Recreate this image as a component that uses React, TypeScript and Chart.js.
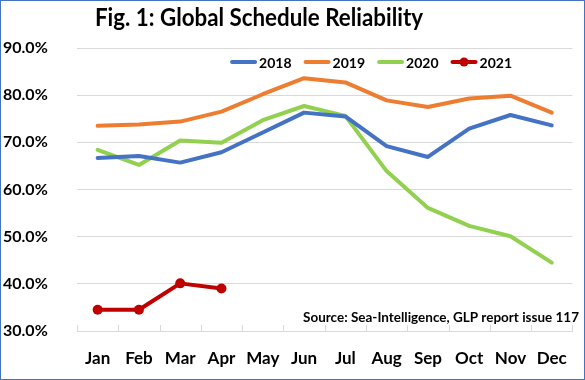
import React, { useEffect, useRef } from "react";
import { Chart, registerables } from "chart.js";

Chart.register(...registerables);

const months = ["Jan", "Feb", "Mar", "Apr", "May", "Jun", "Jul", "Aug", "Sep", "Oct", "Nov", "Dec"];
const s2018 = [66.7, 67.1, 65.7, 67.9, 72.1, 76.3, 75.5, 69.2, 66.9, 72.9, 75.8, 73.6];
const s2019 = [73.5, 73.8, 74.4, 76.5, 80.2, 83.6, 82.7, 78.9, 77.5, 79.3, 79.9, 76.3];
const s2020 = [68.4, 65.2, 70.4, 69.9, 74.7, 77.7, 75.6, 63.9, 56.1, 52.3, 50.1, 44.5];
const s2021 = [34.5, 34.5, 40.1, 39.0];
const seriesLabels = ["2018", "2019", "2020", "2021"];
const yMin = 30;
const yMax = 90;
const yStep = 10;
const titleText = "Fig. 1: Global Schedule Reliability";
const sourceText = "Source: Sea-Intelligence, GLP report issue 117";

const FONT = "Lato, 'Open Sans', sans-serif";
const colors = ["#4472C4", "#ED7D31", "#92D050", "#C00000"];

function drawFitted(ctx: CanvasRenderingContext2D, text: string, font: string, left: number, width: number, cy: number) {
  ctx.save();
  ctx.font = font;
  const m = ctx.measureText(text).width;
  const sx = width / m;
  ctx.translate(left, cy);
  ctx.scale(sx, 1);
  ctx.textAlign = "left";
  ctx.textBaseline = "middle";
  ctx.fillStyle = "#000";
  ctx.fillText(text, 0, 0);
  ctx.restore();
}

const decorPlugin = {
  id: "decor",
  beforeDatasetsDraw(chart: any) {
    const { ctx, chartArea } = chart;
    const { left, right, bottom } = chartArea;
    const n = months.length;
    ctx.save();
    ctx.strokeStyle = "#D9D9D9";
    ctx.lineWidth = 1;
    for (let i = 0; i <= n; i++) {
      const x = Math.round(left + (i * (right - left)) / n) + 0.5;
      ctx.beginPath();
      ctx.moveTo(x, bottom - 6);
      ctx.lineTo(x, bottom);
      ctx.stroke();
    }
    ctx.restore();
  },
  afterDraw(chart: any) {
    const { ctx } = chart;
    // title
    drawFitted(ctx, titleText, `bold 24px ${FONT}`, 94, 328, 17);
    // source
    drawFitted(ctx, sourceText, `bold 13px ${FONT}`, 302, 276, 317);
    // legend
    ctx.save();
    ctx.font = `bold 14px ${FONT}`;
    ctx.textBaseline = "middle";
    ctx.textAlign = "left";
    const ly = 61;
    const lineLen = 27;
    const gapText = 2;
    const gapItem = 12;
    const widths = seriesLabels.map((l) => ctx.measureText(l).width);
    const total = widths.reduce((a, b) => a + b, 0) + seriesLabels.length * (lineLen + gapText) + (seriesLabels.length - 1) * gapItem;
    let x = 511 - total;
    chart.data.datasets.forEach((ds: any, i: number) => {
      ctx.strokeStyle = ds.borderColor;
      ctx.lineWidth = 4;
      ctx.lineCap = "round";
      ctx.beginPath();
      ctx.moveTo(x + 2, ly);
      ctx.lineTo(x + lineLen - 2, ly);
      ctx.stroke();
      if (ds.pointRadius > 0) {
        ctx.fillStyle = ds.borderColor;
        ctx.beginPath();
        ctx.arc(x + lineLen / 2, ly, 4.5, 0, Math.PI * 2);
        ctx.fill();
      }
      ctx.fillStyle = "#000";
      ctx.fillText(ds.label, x + lineLen + gapText, ly + 1);
      x += lineLen + gapText + widths[i] + gapItem;
    });
    ctx.restore();
  },
};

export default function App() {
  const ref = useRef<HTMLCanvasElement>(null);
  useEffect(() => {
    document.body.style.margin = "0";
    const ds = (label: string, data: number[], color: string, pr: number) => ({
      label,
      data,
      borderColor: color,
      backgroundColor: color,
      borderWidth: 4,
      pointRadius: pr,
      pointHoverRadius: pr,
      pointBackgroundColor: color,
      pointBorderColor: color,
      pointBorderWidth: 0,
      tension: 0,
      borderCapStyle: "round",
      borderJoinStyle: "round",
      fill: false,
    });
    const chart = new Chart(ref.current as HTMLCanvasElement, {
      type: "line",
      data: {
        labels: months,
        datasets: [
          ds(seriesLabels[0], s2018, colors[0], 0),
          ds(seriesLabels[1], s2019, colors[1], 0),
          ds(seriesLabels[2], s2020, colors[2], 0),
          ds(seriesLabels[3], s2021, colors[3], 5),
        ] as any,
      },
      options: {
        animation: false,
        responsive: false,
        layout: { padding: { top: 47, left: 2, right: 1, bottom: 0 } },
        plugins: { legend: { display: false }, title: { display: false }, tooltip: { enabled: false } },
        scales: {
          x: {
            offset: true,
            grid: { display: false, drawTicks: false },
            border: { display: true, color: "#D9D9D9", width: 1 },
            ticks: {
              color: "#000",
              font: { family: FONT, size: 17, weight: "bold" },
              padding: 17,
              autoSkip: false,
              maxRotation: 0,
            },
            afterFit: (s: any) => {
              s.height = 48;
            },
          },
          y: {
            min: yMin,
            max: yMax,
            grid: { color: "#D9D9D9", drawTicks: false },
            border: { display: false },
            ticks: {
              stepSize: yStep,
              color: "#000",
              crossAlign: "far",
              font: { family: FONT, size: 16, weight: "bold" },
              callback: (v: any) => Number(v).toFixed(1) + "%",
            },
            afterFit: (s: any) => {
              s.width = 74;
            },
          },
        },
      } as any,
      plugins: [decorPlugin],
    });
    return () => chart.destroy();
  }, []);
  return (
    <div
      style={{
        position: "absolute",
        left: 0,
        top: 0,
        width: 585,
        height: 380,
        boxSizing: "border-box",
        border: "1px solid #4472C4",
        background: "#fff",
      }}
    >
      <canvas ref={ref} width={583} height={378} style={{ display: "block", width: 583, height: 378 }} />
    </div>
  );
}
